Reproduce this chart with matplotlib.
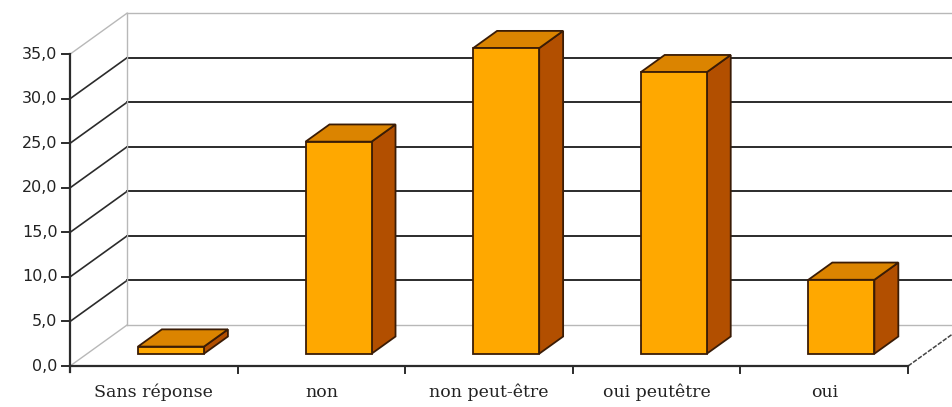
import matplotlib.pyplot as plt
from matplotlib.patches import Polygon

# données
categories = ["Sans réponse", "non", "non peut-être", "oui peutêtre", "oui"]
valeurs = [0.8, 23.8, 34.3, 31.6, 8.3]
graduations = [0, 5, 10, 15, 20, 25, 30, 35]
etiquettes_y = ["0,0", "5,0", "10,0", "15,0", "20,0", "25,0", "30,0", "35,0"]

# profondeur du "3D" (en unités de données)
DX, DY = 0.34, 4.6
F_AV, F_AR = 0.30, 0.72   # position avant / arrière des barres dans la profondeur
DEMI_L = 0.197

c_face = "#FFA800"
c_dessus = "#DB8400"
c_cote = "#B24F00"
c_bord = "#3a1c06"
c_grille = "#2b2b2b"
c_gris = "#b8b8b8"

fig = plt.figure(figsize=(9.53, 4.07), dpi=100)
ax = fig.add_axes([0, 0, 1, 1])
ax.set_xlim(-0.418, 5.268)
ax.set_ylim(-4.6, 41.08)
ax.axis("off")

n = len(categories)
ymax = graduations[-1]

# mur du fond
for g in graduations:
    bord = g in (0, ymax)
    couleur = c_gris if bord else c_grille
    lw = 1.0 if bord else 1.4
    ax.plot([0, DX], [g, g + DY], color=couleur, lw=lw if bord else 1.2, zorder=1)
    ax.plot([DX, n + DX], [g + DY, g + DY], color=couleur, lw=lw, zorder=1)
ax.plot([DX, DX], [DY, ymax + DY], color=c_gris, lw=1.0, zorder=1)
ax.plot([n, n + DX], [0, DY], color="#444444", lw=1.1, ls=(0, (3, 1)), zorder=1)

# barres
for i, v in enumerate(valeurs):
    cx = i + 0.5
    x0f, x1f = cx - DEMI_L + F_AV * DX, cx + DEMI_L + F_AV * DX
    x0b, x1b = cx - DEMI_L + F_AR * DX, cx + DEMI_L + F_AR * DX
    yf, yb = F_AV * DY, F_AR * DY
    cote = Polygon([(x1f, yf), (x1b, yb), (x1b, v + yb), (x1f, v + yf)],
                   closed=True, fc=c_cote, ec=c_bord, lw=1.3, zorder=3)
    dessus = Polygon([(x0f, v + yf), (x1f, v + yf), (x1b, v + yb), (x0b, v + yb)],
                     closed=True, fc=c_dessus, ec=c_bord, lw=1.3, zorder=3)
    face = Polygon([(x0f, yf), (x1f, yf), (x1f, v + yf), (x0f, v + yf)],
                   closed=True, fc=c_face, ec=c_bord, lw=1.3, zorder=4)
    for p in (cote, dessus, face):
        ax.add_patch(p)

# axes avant
ax.plot([0, 0], [-0.7, ymax], color=c_grille, lw=1.6, zorder=5)
ax.plot([0, n], [0, 0], color=c_grille, lw=1.6, zorder=5)
for g, lab in zip(graduations, etiquettes_y):
    ax.plot([-0.048, 0], [g, g], color=c_grille, lw=1.4, zorder=5)
    ax.text(-0.075, g, lab, ha="right", va="center", fontsize=11.5,
            family="DejaVu Sans", color="#222222")
for k in range(1, n + 1):
    ax.plot([k, k], [0, -0.8], color=c_grille, lw=1.4, zorder=5)
for i, cat in enumerate(categories):
    ax.text(i + 0.5, -3.0, cat, ha="center", va="center", fontsize=12.5,
            family="DejaVu Serif", color="#222222")

fig.savefig("out.png", dpi=100)
